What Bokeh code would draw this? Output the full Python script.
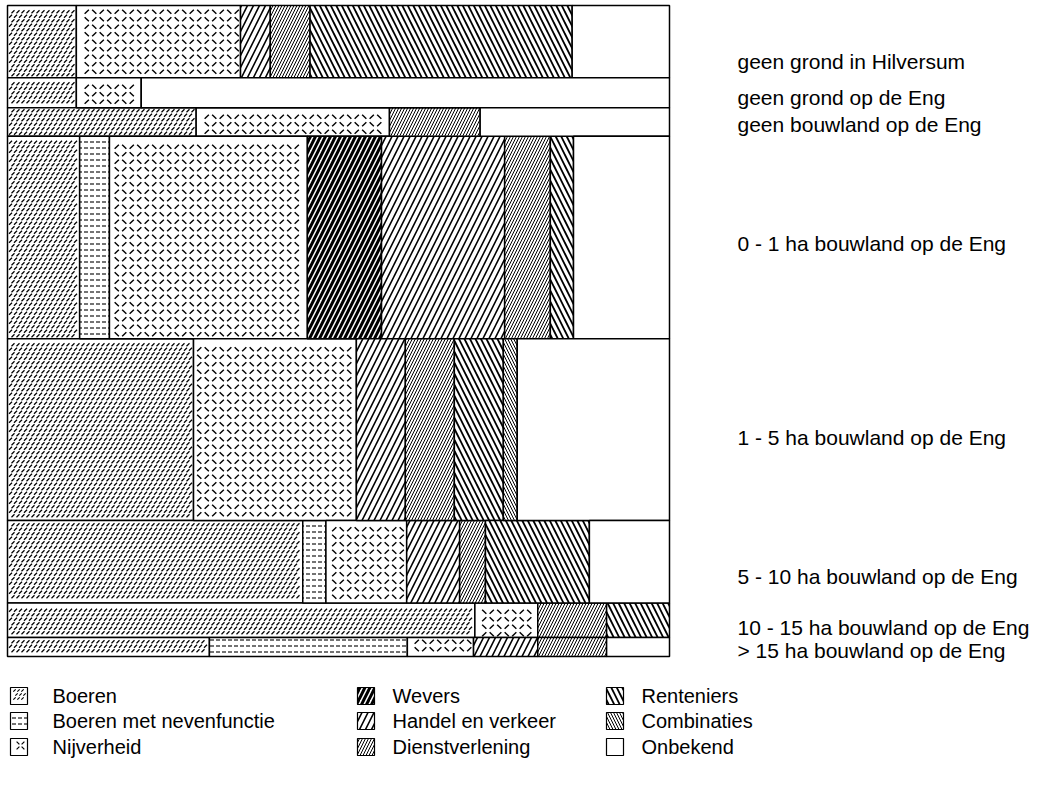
import math
from bokeh.plotting import figure
from bokeh.models import Range1d, ColumnDataSource
from bokeh.core.properties import value
from bokeh.embed import file_html
from bokeh.resources import INLINE

# ---------------- data ----------------
rows = ["geen grond in Hilversum", "geen grond op de Eng", "geen bouwland op de Eng",
        "0 - 1 ha bouwland op de Eng", "1 - 5 ha bouwland op de Eng",
        "5 - 10 ha bouwland op de Eng", "10 - 15 ha bouwland op de Eng",
        "> 15 ha bouwland op de Eng"]
row_share = [11.1, 4.6, 4.4, 31.1, 27.9, 12.7, 5.3, 2.9]   # % of all households (row heights)

categories = ["Boeren", "Boeren met nevenfunctie", "Nijverheid", "Wevers",
              "Handel en verkeer", "Dienstverlening", "Renteniers", "Combinaties", "Onbekend"]

boeren       = [10.4, 10.4, 28.5, 10.9, 28.1, 44.6, 70.6, 30.5]
boeren_nevf  = [0.0, 0.0, 0.0, 4.5, 0.0, 3.5, 0.0, 29.9]
nijverheid   = [24.8, 9.8, 29.2, 29.9, 24.6, 12.2, 9.5, 10.0]
wevers       = [0.0, 0.0, 0.0, 11.2, 0.0, 0.0, 0.0, 0.0]
handel       = [4.5, 0.0, 0.0, 18.6, 7.4, 8.0, 0.0, 9.7]
dienst       = [6.0, 0.0, 13.7, 6.9, 7.4, 3.9, 10.4, 10.4]
renteniers   = [39.6, 0.0, 0.0, 3.5, 7.4, 15.7, 9.5, 0.0]
combinaties  = [0.0, 0.0, 0.0, 0.0, 2.1, 0.0, 0.0, 0.0]
onbekend     = [14.7, 79.8, 28.6, 14.5, 23.0, 12.1, 0.0, 9.5]

series = [boeren, boeren_nevf, nijverheid, wevers, handel, dienst, renteniers, combinaties, onbekend]

# ---------------- styles ----------------
styles = {
    "Boeren": dict(hatch_pattern=" "),              # dash texture below
    "Boeren met nevenfunctie": dict(hatch_pattern='"', hatch_scale=6, hatch_weight=1.1),
    "Nijverheid": dict(hatch_pattern=" "),          # checker-plate texture below
    "Wevers": dict(hatch_pattern="/", hatch_scale=10, hatch_weight=3.0),
    "Handel en verkeer": dict(hatch_pattern="/", hatch_scale=12, hatch_weight=1.6),
    "Dienstverlening": dict(hatch_pattern="/", hatch_scale=6, hatch_weight=1.0),
    "Renteniers": dict(hatch_pattern="\\", hatch_scale=11, hatch_weight=1.8),
    "Combinaties": dict(hatch_pattern="\\", hatch_scale=6, hatch_weight=1.0),
    "Onbekend": dict(hatch_pattern=" "),
}
# texture settings: (mode, cell_x, cell_y, half, weight) for big cells / legend swatch
textures = {
    "Boeren": [("dash", 5.0, 4.5, 1.5, 1.3), ("dash", 4.0, 4.0, 1.2, 1.1)],
    "Nijverheid": [("checker", 7.5, 7.5, 2.1, 1.4), ("checker", 5.0, 5.0, 1.4, 1.2)],
}
label_nudge = [3.05, 0.7, 0.4, 0.95, 1.25, 2.25, 1.05, 0.55]

W, H = 1052, 790
PXX = 6.62   # px per % horizontally
PXY = 6.51   # px per % vertically
x0 = -7.0 / PXX
y0 = -5.0 / PXY

p = figure(width=W, height=H, output_backend="svg", toolbar_location=None,
           x_range=Range1d(x0, x0 + W / PXX), y_range=Range1d(y0 + H / PXY, y0),
           min_border=0, min_border_left=0, min_border_right=0,
           min_border_top=0, min_border_bottom=0)
p.axis.visible = False
p.grid.visible = False
p.outline_line_color = None
p.background_fill_color = "white"


def ux(px):
    return x0 + px / PXX


def uy(px):
    return y0 + px / PXY


def texture(L, R, T, B, mode, cx_step, cy_step, half, weight):
    """Short-dash textures inside data rectangles (dash: staggered '/', checker: alternating / and \\)."""
    xs0, ys0, xs1, ys1 = [], [], [], []
    for l, r, t, b in zip(L, R, T, B):
        pl, pr = (l - x0) * PXX, (r - x0) * PXX
        pt, pb = (t - y0) * PXY, (b - y0) * PXY
        for gy in range(math.floor(pt / cy_step), math.ceil(pb / cy_step) + 1):
            cy = gy * cy_step + cy_step / 2
            if cy - half < pt + 1.2 or cy + half > pb - 1.2:
                continue
            shift = (cx_step / 2) * (gy % 2) if mode == "dash" else 0.0
            for gx in range(math.floor(pl / cx_step) - 1, math.ceil(pr / cx_step) + 1):
                cx = gx * cx_step + cx_step / 2 + shift
                if cx - half < pl + 1.2 or cx + half > pr - 1.2:
                    continue
                if mode == "dash" or (gx + gy) % 2 == 0:
                    a, b2, c, d = cx - half, cy + half, cx + half, cy - half
                else:
                    a, b2, c, d = cx - half, cy - half, cx + half, cy + half
                xs0.append(ux(a)); ys0.append(uy(b2)); xs1.append(ux(c)); ys1.append(uy(d))
    p.segment(x0=xs0, y0=ys0, x1=xs1, y1=ys1, line_color="black", line_width=weight,
              line_cap="butt")


# row boundaries
tops, bottoms = [], []
acc = 0.0
for s in row_share:
    tops.append(acc)
    acc += s
    bottoms.append(acc)

cum = [0.0] * len(rows)
for cat, vals in zip(categories, series):
    L, R, T, B = [], [], [], []
    for i, v in enumerate(vals):
        if v > 0:
            L.append(cum[i]); R.append(cum[i] + v); T.append(tops[i]); B.append(bottoms[i])
        cum[i] += v
    src = ColumnDataSource(dict(left=L, right=R, top=T, bottom=B))
    p.quad(left="left", right="right", top="top", bottom="bottom", source=src,
           fill_color="white", hatch_color="black", line_color="black",
           line_width=1.5, **styles[cat])
    if cat in textures:
        texture(L, R, T, B, *textures[cat][0])

# row labels
lab_y = [(t + b) / 2 + n for t, b, n in zip(tops, bottoms, label_nudge)]
p.text(x=[ux(737)] * len(rows), y=lab_y, text=rows, text_font=value("Liberation Sans"),
       text_font_size="21px", text_baseline="middle", text_align="left", text_color="black")

# legend
col_sw = [10, 357, 606]
col_tx = [52, 392, 641]
row_cy = [695, 720, 746]
for idx, cat in enumerate(categories):
    c, r = idx // 3, idx % 3
    sx, cy = col_sw[c], row_cy[r]
    Ls, Rs, Ts, Bs = [ux(sx)], [ux(sx + 17)], [uy(cy - 8)], [uy(cy + 9)]
    src = ColumnDataSource(dict(left=Ls, right=Rs, top=Ts, bottom=Bs))
    p.quad(left="left", right="right", top="top", bottom="bottom", source=src,
           fill_color="white", hatch_color="black", line_color="black", line_width=1.2,
           **styles[cat])
    if cat in textures:
        texture(Ls, Rs, Ts, Bs, *textures[cat][1])
    p.text(x=[ux(col_tx[c])], y=[uy(cy)], text=[cat], text_font=value("Liberation Sans"),
           text_font_size="20px", text_baseline="middle", text_align="left", text_color="black")

open("out.html", "w").write(file_html(p, INLINE))
